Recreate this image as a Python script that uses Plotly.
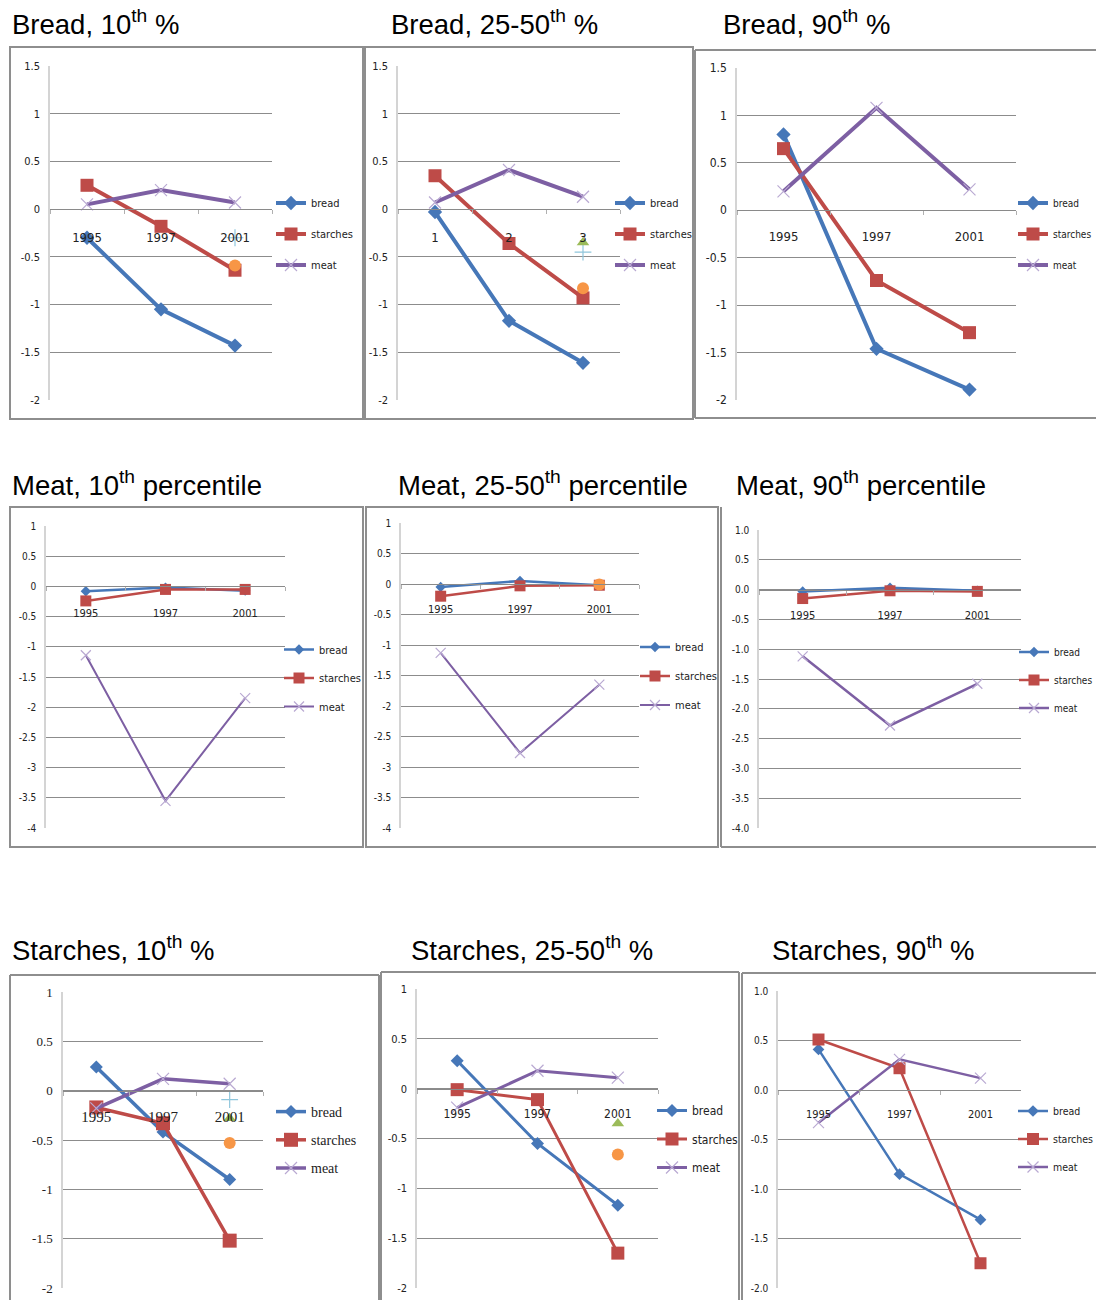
import plotly.graph_objects as go

W, H = 1096, 1300

# ---------------- data ----------------
years = ["1995", "1997", "2001"]
index_cats = ["1", "2", "3"]
series_names = ["bread", "starches", "meat"]

# Bread, 10th %
b10_bread = [-0.30, -1.05, -1.43]
b10_starches = [0.25, -0.18, -0.64]
b10_meat = [0.05, 0.20, 0.07]
b10_lightblue = [None, None, -0.30]
b10_orange = [None, None, -0.59]

# Bread, 25-50th %
b25_bread = [-0.03, -1.17, -1.61]
b25_starches = [0.35, -0.36, -0.93]
b25_meat = [0.07, 0.41, 0.13]
b25_lightblue = [None, None, -0.45]
b25_green = [None, None, -0.35]
b25_orange = [None, None, -0.83]

# Bread, 90th %
b90_bread = [0.80, -1.46, -1.89]
b90_starches = [0.65, -0.74, -1.29]
b90_meat = [0.20, 1.08, 0.22]

# Meat, 10th percentile
m10_bread = [-0.08, -0.02, -0.07]
m10_starches = [-0.24, -0.05, -0.05]
m10_meat = [-1.14, -3.55, -1.85]

# Meat, 25-50th percentile
m25_bread = [-0.05, 0.05, -0.02]
m25_starches = [-0.20, -0.03, -0.02]
m25_meat = [-1.13, -2.77, -1.65]
m25_orange = [None, None, -0.01]

# Meat, 90th percentile
m90_bread = [-0.03, 0.03, -0.02]
m90_starches = [-0.15, -0.02, -0.03]
m90_meat = [-1.12, -2.28, -1.58]

# Starches, 10th %
s10_bread = [0.24, -0.42, -0.90]
s10_starches = [-0.17, -0.33, -1.52]
s10_meat = [-0.18, 0.12, 0.07]
s10_lightblue = [None, None, -0.09]
s10_green = [None, None, -0.28]
s10_orange = [None, None, -0.53]

# Starches, 25-50th %
s25_bread = [0.28, -0.55, -1.17]
s25_starches = [-0.01, -0.11, -1.65]
s25_meat = [-0.19, 0.18, 0.11]
s25_green = [None, None, -0.35]
s25_orange = [None, None, -0.66]

# Starches, 90th %
s90_bread = [0.41, -0.85, -1.31]
s90_starches = [0.51, 0.22, -1.75]
s90_meat = [-0.33, 0.31, 0.12]

# tick labels
row1_tickvals = [1.5, 1, 0.5, 0, -0.5, -1, -1.5, -2]
row1_ticktext = ["1.5", "1", "0.5", "0", "-0.5", "-1", "-1.5", "-2"]
row2_tickvals = [1, 0.5, 0, -0.5, -1, -1.5, -2, -2.5, -3, -3.5, -4]
row2_ticktext = ["1", "0.5", "0", "-0.5", "-1", "-1.5", "-2", "-2.5", "-3", "-3.5", "-4"]
row2_ticktext_dec = ["1.0", "0.5", "0.0", "-0.5", "-1.0", "-1.5", "-2.0", "-2.5", "-3.0", "-3.5", "-4.0"]
row3_tickvals = [1, 0.5, 0, -0.5, -1, -1.5, -2]
row3_ticktext = ["1", "0.5", "0", "-0.5", "-1", "-1.5", "-2"]
row3_ticktext_dec = ["1.0", "0.5", "0.0", "-0.5", "-1.0", "-1.5", "-2.0"]

# ---------------- styles ----------------
COL = {"bread": "#4677b8", "starches": "#be4b48", "meat": "#7d5fa3"}
MEAT_MARK = "#b9a9d2"
EXTRA = {
    "orange": dict(symbol="circle", color="#f79646", size=12),
    "green": dict(symbol="triangle-up", color="#9bbb59", size=11),
    "lightblue": dict(symbol="cross-thin", color="#8fc6dc", size=12),
}
NARROW = "Liberation Sans Narrow, Arial Narrow, DejaVu Sans Condensed, sans-serif"
SERIF = "Liberation Serif, DejaVu Serif, serif"
TITLE_FONT = dict(family="Liberation Sans, Arial, sans-serif", size=27.5, color="#000000")


def fx(px):
    return px / W


def fy(py):
    return 1 - py / H


panels = [
    dict(title="Bread, 10<sup>th</sup> %", tpos=(10, 23), cats=years, yr=(-2, 1.5),
         tv=row1_tickvals, tt=row1_ticktext, box=(50, 272, 66, 400), leg=(313, 234, 31),
         data=(b10_bread, b10_starches, b10_meat),
         extras=[("lightblue", b10_lightblue), ("orange", b10_orange)],
         lw=4, ms=(11, 13, 12), font=NARROW, yfs=11, xfs=13, lfs=11, xso=16),
    dict(title="Bread, 25-50<sup>th</sup> %", tpos=(389, 23), cats=index_cats, yr=(-2, 1.5),
         tv=row1_tickvals, tt=row1_ticktext, box=(398, 620, 66, 400), leg=(652, 234, 31),
         data=(b25_bread, b25_starches, b25_meat),
         extras=[("lightblue", b25_lightblue), ("green", b25_green), ("orange", b25_orange)],
         lw=4, ms=(11, 13, 12), font=NARROW, yfs=11, xfs=13, lfs=11, xso=16),
    dict(title="Bread, 90<sup>th</sup> %", tpos=(721, 23), cats=years, yr=(-2, 1.5),
         tv=row1_tickvals, tt=row1_ticktext, box=(737, 1016, 68, 400), leg=(1055, 234, 31),
         data=(b90_bread, b90_starches, b90_meat), extras=[],
         lw=4, ms=(11, 13, 12), font=NARROW, yfs=12, xfs=13, lfs=10, xso=14),
    dict(title="Meat, 10<sup>th</sup> percentile", tpos=(10, 484), cats=years, yr=(-4, 1),
         tv=row2_tickvals, tt=row2_ticktext, box=(46, 285, 526, 828), leg=(321, 678, 28.5),
         data=(m10_bread, m10_starches, m10_meat), extras=[],
         lw=2.5, ms=(8, 11, 10), font=NARROW, yfs=10, xfs=11, lfs=11, xso=16),
    dict(title="Meat, 25-50<sup>th</sup> percentile", tpos=(396, 484), cats=years, yr=(-4, 1),
         tv=row2_tickvals, tt=row2_ticktext, box=(401, 639, 523, 828), leg=(677, 676, 29),
         data=(m25_bread, m25_starches, m25_meat), extras=[("orange", m25_orange)],
         lw=2.5, ms=(8, 11, 10), font=NARROW, yfs=10, xfs=11, lfs=11, xso=15),
    dict(title="Meat, 90<sup>th</sup> percentile", tpos=(734, 484), cats=years, yr=(-4, 1),
         tv=row2_tickvals, tt=row2_ticktext_dec, box=(759, 1021, 530, 828), leg=(1056, 680, 28),
         data=(m90_bread, m90_starches, m90_meat), extras=[],
         lw=2.5, ms=(8, 11, 10), font=NARROW, yfs=10, xfs=11, lfs=10, xso=15),
    dict(title="Starches, 10<sup>th</sup> %", tpos=(10, 948), cats=years, yr=(-2, 1),
         tv=row3_tickvals, tt=row3_ticktext, box=(63, 263, 992, 1288), leg=(313, 1140, 28),
         data=(s10_bread, s10_starches, s10_meat),
         extras=[("lightblue", s10_lightblue), ("green", s10_green), ("orange", s10_orange)],
         lw=3.5, ms=(10, 14, 12), font=SERIF, yfs=13, xfs=15, lfs=14, xso=12),
    dict(title="Starches, 25-50<sup>th</sup> %", tpos=(409, 948), cats=years, yr=(-2, 1),
         tv=row3_tickvals, tt=row3_ticktext, box=(417, 658, 989, 1288), leg=(694, 1139, 28.5),
         data=(s25_bread, s25_starches, s25_meat),
         extras=[("green", s25_green), ("orange", s25_orange)],
         lw=3, ms=(10, 13, 12), font=NARROW, yfs=11, xfs=12, lfs=12, xso=14),
    dict(title="Starches, 90<sup>th</sup> %", tpos=(770, 948), cats=years, yr=(-2, 1),
         tv=row3_tickvals, tt=row3_ticktext_dec, box=(778, 1021, 991, 1288), leg=(1055, 1139, 28),
         data=(s90_bread, s90_starches, s90_meat), extras=[],
         lw=2.5, ms=(9, 12, 11), font=NARROW, yfs=10, xfs=11, lfs=10.5, xso=14),
]

fig = go.Figure()
layout = dict(width=W, height=H, margin=dict(l=0, r=0, t=0, b=0, pad=0, autoexpand=False),
              paper_bgcolor="white", plot_bgcolor="rgba(0,0,0,0)",
              showlegend=True, annotations=[], shapes=[])

symbols = ["diamond", "square", "x-thin"]

for i, p in enumerate(panels, start=1):
    sfx = "" if i == 1 else str(i)
    xa, ya = "x" + sfx, "y" + sfx
    legkey = "legend" + sfx
    x0, x1, ytop, ybot = p["box"]
    ymin, ymax = p["yr"]
    dom_y = [fy(ybot), fy(ytop)]
    zero_pos = dom_y[0] + (0 - ymin) / (ymax - ymin) * (dom_y[1] - dom_y[0])

    for j, (name, vals) in enumerate(zip(series_names, p["data"])):
        if name == "meat":
            marker = dict(symbol="x-thin", size=p["ms"][j],
                          line=dict(color=MEAT_MARK, width=1.2), color=MEAT_MARK)
        else:
            marker = dict(symbol=symbols[j], size=p["ms"][j], color=COL[name],
                          line=dict(width=0))
        lw = p["lw"] if name != "meat" or i not in (4, 5) else 2
        fig.add_trace(go.Scatter(
            x=p["cats"], y=vals, name=name, mode="lines+markers",
            line=dict(color=COL[name], width=lw), marker=marker,
            xaxis=xa, yaxis=ya, legend=legkey, legendgroup=f"p{i}_{name}",
            cliponaxis=False, hoverinfo="skip"))
    for kind, vals in p["extras"]:
        st = EXTRA[kind]
        if kind == "lightblue":
            mk = dict(symbol=st["symbol"], size=st["size"], color=st["color"],
                      line=dict(color=st["color"], width=1.2))
        else:
            mk = dict(symbol=st["symbol"], size=st["size"], color=st["color"], line=dict(width=0))
        fig.add_trace(go.Scatter(
            x=p["cats"], y=vals, mode="markers", marker=mk, showlegend=False,
            xaxis=xa, yaxis=ya, legend=legkey, cliponaxis=False, hoverinfo="skip"))

    layout["xaxis" + sfx] = dict(
        domain=[fx(x0), fx(x1)], anchor="free", position=zero_pos,
        type="category", categoryorder="array", categoryarray=p["cats"],
        range=[-0.5, 2.5], showgrid=False, zeroline=False,
        showline=True, linecolor="#8a8a8a", linewidth=1,
        ticks="outside", tickson="boundaries", ticklen=4, tickcolor="#b0b0b0",
        ticklabelstandoff=p["xso"],
        tickfont=dict(family=p["font"], size=p["xfs"], color="#222222"),
        fixedrange=True, automargin=False)
    layout["yaxis" + sfx] = dict(
        domain=dom_y, anchor=xa, range=[ymin, ymax],
        tickvals=p["tv"], ticktext=p["tt"], showgrid=True,
        gridcolor="#8c8c8c", gridwidth=1, zeroline=False,
        showline=True, linecolor="#d4d4d4", linewidth=1.5, ticks="",
        ticklabelstandoff=6,
        tickfont=dict(family=p["font"], size=p["yfs"], color="#222222"),
        fixedrange=True, automargin=False)
    lx, lcy, lgap = p["leg"]
    item_h = 19 if p["lfs"] <= 12 else 21
    layout[legkey] = dict(
        x=fx(lx - 42), xanchor="left", y=fy(lcy), yanchor="middle",
        font=dict(family=p["font"], size=p["lfs"], color="#222222"),
        bgcolor="rgba(0,0,0,0)", borderwidth=0, traceorder="grouped",
        tracegroupgap=max(lgap - item_h, 0), itemwidth=30)
    tx, ty = p["tpos"]
    layout["annotations"].append(dict(
        text=p["title"], x=fx(tx), y=fy(ty), xref="paper", yref="paper",
        xanchor="left", yanchor="middle", showarrow=False, font=TITLE_FONT))

# panel borders (kept inside the page)
BORDER = dict(color="#8e8e8e", width=2)
RIGHT, BOTTOM = W, H
rects = [(10, 47, 363, 419), (365, 47, 693, 419), (10, 507, 363, 847), (366, 507, 718, 847)]
for (a, b, c, d) in rects:
    layout["shapes"].append(dict(type="rect", xref="paper", yref="paper",
                                 x0=fx(a), y0=fy(d), x1=fx(c), y1=fy(b),
                                 line=BORDER, fillcolor="rgba(0,0,0,0)", layer="below"))
open_edges = [
    # Bread 90th: left, top, bottom
    (695, 50, 695, 418), (695, 50, RIGHT, 50), (695, 418, RIGHT, 418),
    # Meat 90th: left and bottom
    (721, 507, 721, 847), (721, 847, RIGHT, 847),
    # Starches row: left, top, right edges running off the bottom
    (10, 975, 10, BOTTOM), (10, 975, 379, 975), (379, 975, 379, BOTTOM),
    (381, 972, 381, BOTTOM), (381, 972, 739, 972), (739, 972, 739, BOTTOM),
    (742, 973, 742, BOTTOM), (742, 973, RIGHT, 973),
]
for (a, b, c, d) in open_edges:
    layout["shapes"].append(dict(type="line", xref="paper", yref="paper",
                                 x0=fx(a), y0=fy(b), x1=fx(c), y1=fy(d), line=BORDER))

fig.update_layout(**layout)
fig.write_html(
    "out.html",
    config={"displayModeBar": False},
    post_script="var d=document.getElementById('{plot_id}');"
                "d.style.position='fixed';d.style.left='0px';d.style.top='0px';"
                "document.documentElement.style.margin='0';"
                "document.body.style.margin='0';document.body.style.padding='0';"
                "document.documentElement.style.overflow='hidden';"
                "document.body.style.overflow='hidden';",
)
